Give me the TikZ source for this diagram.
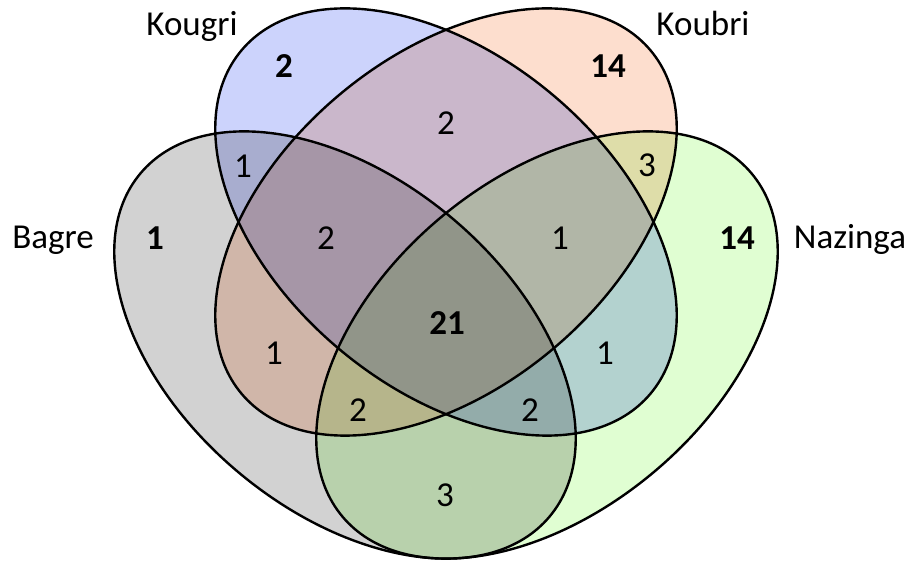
\documentclass[tikz,border=0pt]{standalone}
\usepackage{fontspec}
\setmainfont{Carlito}
\definecolor{bagregrey}{RGB}{210,210,210}
\definecolor{kougriblue}{RGB}{204,211,252}
\definecolor{koubripeach}{RGB}{253,222,206}
\definecolor{nazingagreen}{RGB}{224,254,210}
\tikzstyle{set} = [draw=black, line width=1.2pt]
\tikzstyle{label} = [anchor=base, inner sep=0pt, font=\fontsize{17.5}{21}\selectfont]
\tikzstyle{count} = [label]
\tikzstyle{only} = [label, font=\fontsize{17.5}{21}\selectfont\bfseries]

\begin{document}
\begin{tikzpicture}[x=0.5pt, y=-0.5pt]
    \useasboundingbox (0,0) rectangle (917,566);
    % Fill sets
    \begin{scope}[blend group=multiply]
        \fill[bagregrey, rotate around={-40:(345,345)}] (345,345) ellipse [x radius=267, y radius=166];
        \fill[kougriblue, rotate around={-40:(446,222)}] (446,222) ellipse [x radius=267, y radius=166];
        \fill[koubripeach, rotate around={40:(446,222)}] (446,222) ellipse [x radius=267, y radius=166];
        \fill[nazingagreen, rotate around={40:(547,345)}] (547,345) ellipse [x radius=267, y radius=166];
    \end{scope}
    % Draw outlines
    \foreach \cx/\cy/\ang in {345/345/-40, 446/222/-40, 446/222/40, 547/345/40}
        \draw[set, rotate around={\ang:(\cx,\cy)}] (\cx,\cy) ellipse [x radius=267, y radius=166];
    % Place names
    \node [label] (kougri) at (192,36) {Kougri};
    \node [label] (koubri) at (703,36) {Koubri};
    \node [label] (bagre) at (53,249) {Bagre};
    \node [label] (nazinga) at (850,249) {Nazinga};
    % Place counts
    \node [only] (kougrionly) at (284,78) {2};
    \node [only] (koubrionly) at (608,78) {14};
    \node [only] (bagreonly) at (155,250) {1};
    \node [only] (nazingaonly) at (737,250) {14};
    \node [only] (all) at (447,335) {21};
    \node [count] (kougrikoubri) at (446,135) {2};
    \node [count] (bagrekougri) at (243,178) {1};
    \node [count] (koubrinazinga) at (647,177) {3};
    \node [count] (bagrekougrikoubri) at (326,250) {2};
    \node [count] (kougrikoubrinazinga) at (560,250) {1};
    \node [count] (bagrekoubri) at (274,365) {1};
    \node [count] (kougrinazinga) at (605,365) {1};
    \node [count] (bagrekoubrinazinga) at (358,422) {2};
    \node [count] (bagrekougrinazinga) at (530,422) {2};
    \node [count] (bagrenazinga) at (445,507) {3};
\end{tikzpicture}
\end{document}
